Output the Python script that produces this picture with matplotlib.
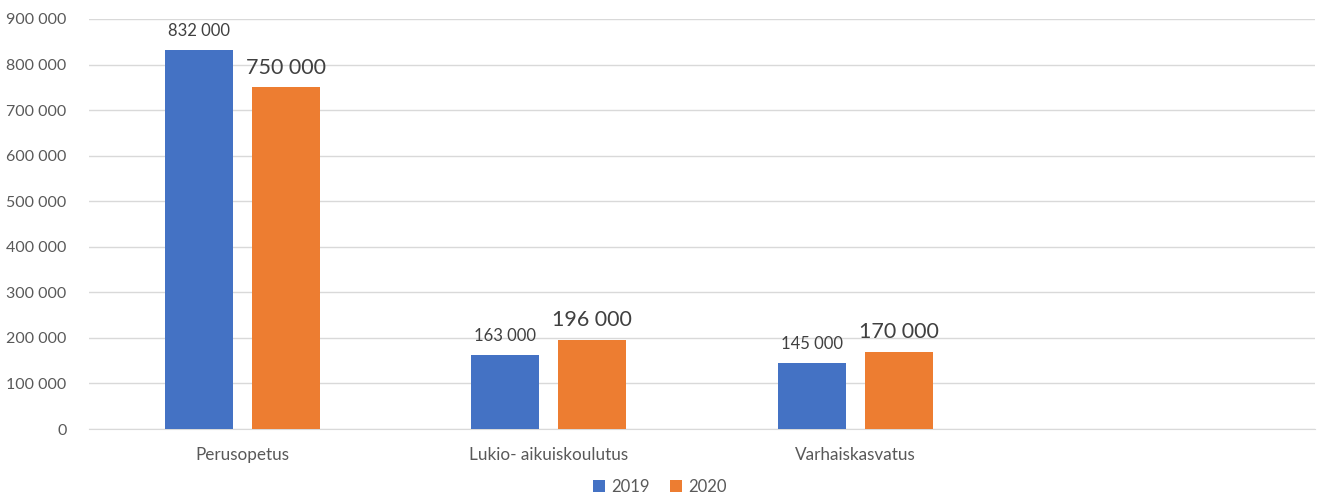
import matplotlib.pyplot as plt
import numpy as np

categories = ["Perusopetus", "Lukio- aikuiskoulutus", "Varhaiskasvatus", ""]
values_2019 = [832000, 163000, 145000, 0]
values_2020 = [750000, 196000, 170000, 0]
series_names = ["2019", "2020"]
colors = ["#4472C4", "#ED7D31"]
text_color = "#595959"

plt.rcParams['font.family'] = ['Lato', 'DejaVu Sans']


def fmt_space(v):
    return f"{int(v):,}".replace(",", " ")


fig = plt.figure(figsize=(13.2, 4.97), dpi=100)
ax = fig.add_axes([0.0674, 0.1368, 0.9286, 0.825])

x = np.arange(len(categories))
width = 0.222
n = 3  # only the first three categories carry data
b1 = ax.bar(x[:n] - 0.142, values_2019[:n], width, color=colors[0], label=series_names[0], zorder=3)
b2 = ax.bar(x[:n] + 0.142, values_2020[:n], width, color=colors[1], label=series_names[1], zorder=3)

ax.bar_label(b1, labels=[fmt_space(v) for v in values_2019[:n]], padding=8, fontsize=12, color="#404040")
ax.bar_label(b2, labels=[fmt_space(v) for v in values_2020[:n]], padding=7, fontsize=15.5, color="#404040")

ax.set_xlim(-0.5, len(categories) - 0.5)
ax.set_ylim(0, 900000)
ax.set_yticks(np.arange(0, 900001, 100000))
ax.set_yticklabels([fmt_space(v) for v in np.arange(0, 900001, 100000)])
ax.set_xticks(x)
ax.set_xticklabels(categories)
ax.yaxis.grid(True, color="#D9D9D9", linewidth=1, zorder=0)
ax.tick_params(axis='x', length=0, labelsize=12.3, colors=text_color, pad=13)
ax.tick_params(axis='y', length=0, labelsize=11.5, colors=text_color, pad=16)
for side in ["top", "right", "left"]:
    ax.spines[side].set_visible(False)
ax.spines["bottom"].set_color("#D9D9D9")

handles, labels = ax.get_legend_handles_labels()
leg = fig.legend(handles, labels, loc="center", bbox_to_anchor=(0.5, 0.02), ncol=2, frameon=False,
                 handlelength=0.7, handleheight=0.7, handletextpad=0.4, columnspacing=1.2,
                 fontsize=12)
for t in leg.get_texts():
    t.set_color(text_color)

fig.savefig("out.png", dpi=100)
